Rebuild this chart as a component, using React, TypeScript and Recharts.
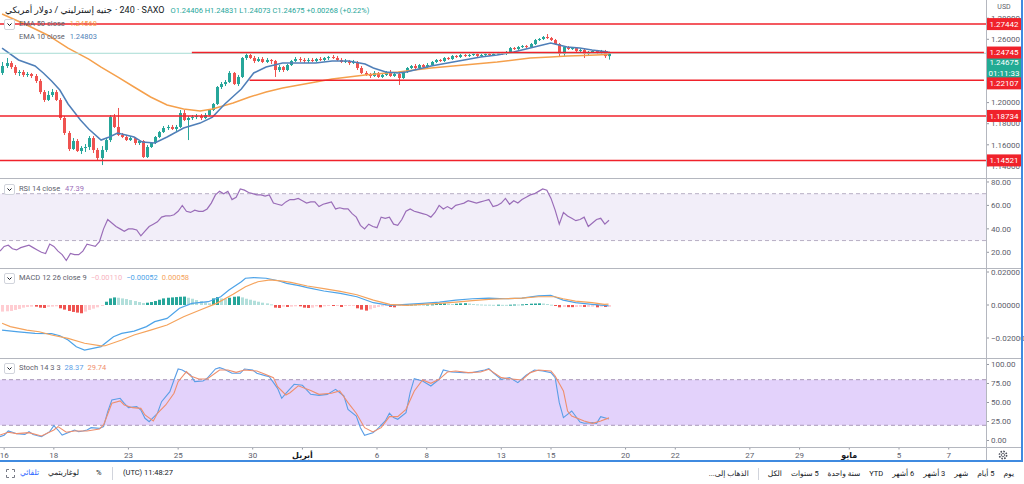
import React from 'react';
import { ComposedChart, Bar, Line, XAxis, YAxis, ReferenceLine, ReferenceArea } from 'recharts';

const FONT = "Roboto, 'DejaVu Sans', sans-serif";
const W = 1024;
const AXIS_W = 38;
const PLOT_W = W - AXIS_W;
const SLOTS = 239; // visible 4h slots incl. empty space on the right

const UP = '#26a69a';
const DOWN = '#ef5350';
const LEVEL = '#f0222b';
const AXIS_TEXT = '#5d606b';
const SEP = '#b4b7bf';

// 4h candles GBP/USD
const opens = [
  1.2281, 1.2347, 1.2375, 1.2337, 1.2281, 1.229, 1.2262, 1.2271, 1.2252, 1.2205,
  1.21, 1.2025, 1.2072, 1.21, 1.2025, 1.1854, 1.1712, 1.156, 1.1636, 1.1541,
  1.157, 1.1579, 1.1664, 1.1551, 1.1475, 1.1551, 1.1645, 1.1863, 1.1769, 1.1693,
  1.1674, 1.1645, 1.1664, 1.1617, 1.1636, 1.1484, 1.1579, 1.1617, 1.1674, 1.1721,
  1.1759, 1.1769, 1.175, 1.1769, 1.1901, 1.1835, 1.1854, 1.1863, 1.1873, 1.1854,
  1.1882, 1.193, 1.1987, 1.2148, 1.2176, 1.2195, 1.2281, 1.2176, 1.2243, 1.2423,
  1.2451, 1.2423, 1.2394, 1.2413, 1.2385, 1.2404, 1.2394, 1.2309, 1.2337, 1.2309,
  1.2356, 1.2394, 1.2413, 1.2404, 1.2394, 1.2404, 1.2394, 1.2413, 1.2404, 1.2423,
  1.2432, 1.2423, 1.2404, 1.2385, 1.2394, 1.2375, 1.2385, 1.2328, 1.2281, 1.2262,
  1.2252, 1.2281, 1.2243, 1.2262, 1.229, 1.2252, 1.2271, 1.2233, 1.229, 1.2328,
  1.2347, 1.2328, 1.2356, 1.2337, 1.2356, 1.2385, 1.2404, 1.2394, 1.2423, 1.2413,
  1.2442, 1.2432, 1.2451, 1.2442, 1.2451, 1.2461, 1.2442, 1.2451, 1.2461, 1.2451,
  1.2461, 1.247, 1.2461, 1.248, 1.2517, 1.2508, 1.2527, 1.2536, 1.2527, 1.2555,
  1.2593, 1.2603, 1.2622, 1.2612, 1.2593, 1.2555, 1.2461, 1.2527, 1.2508, 1.2517,
  1.2489, 1.2499, 1.2461, 1.248, 1.2489, 1.247, 1.2489, 1.24406,
];
const highs = [
  1.2385, 1.2423, 1.2394, 1.2356, 1.2309, 1.2309, 1.229, 1.2281, 1.2271, 1.2224,
  1.2119, 1.211, 1.2129, 1.2119, 1.2043, 1.1873, 1.1731, 1.1664, 1.1655, 1.1588,
  1.1607, 1.1683, 1.1683, 1.157, 1.1588, 1.1664, 1.1882, 1.1892, 1.1949, 1.1712,
  1.1693, 1.1683, 1.1674, 1.1645, 1.1645, 1.1598, 1.1626, 1.1683, 1.1731, 1.1778,
  1.1788, 1.1788, 1.1788, 1.193, 1.193, 1.1873, 1.1882, 1.1892, 1.1892, 1.1901,
  1.1939, 1.1996, 1.2157, 1.2195, 1.2214, 1.2299, 1.229, 1.2262, 1.2432, 1.247,
  1.2461, 1.2442, 1.2432, 1.2432, 1.2423, 1.2413, 1.2404, 1.2356, 1.2347, 1.2366,
  1.2404, 1.2432, 1.2432, 1.2423, 1.2423, 1.2423, 1.2423, 1.2432, 1.2432, 1.2442,
  1.2451, 1.2442, 1.2423, 1.2413, 1.2404, 1.2404, 1.2394, 1.2347, 1.2299, 1.2281,
  1.2299, 1.229, 1.2281, 1.2299, 1.2309, 1.229, 1.2281, 1.2299, 1.2337, 1.2356,
  1.2366, 1.2366, 1.2366, 1.2375, 1.2394, 1.2413, 1.2413, 1.2432, 1.2432, 1.2451,
  1.2451, 1.2461, 1.2461, 1.2461, 1.247, 1.247, 1.2461, 1.247, 1.247, 1.247,
  1.248, 1.248, 1.2489, 1.2527, 1.2527, 1.2536, 1.2546, 1.2546, 1.2565, 1.2603,
  1.2612, 1.2631, 1.265, 1.2622, 1.2603, 1.2565, 1.2536, 1.2536, 1.2527, 1.2527,
  1.2508, 1.2508, 1.2489, 1.2499, 1.2499, 1.2499, 1.2499, 1.24831,
];
const lows = [
  1.2262, 1.2328, 1.2318, 1.2262, 1.2252, 1.2243, 1.2243, 1.2233, 1.2186, 1.2081,
  1.2006, 1.2015, 1.2053, 1.2015, 1.1835, 1.1693, 1.1541, 1.1551, 1.1532, 1.1513,
  1.1532, 1.1551, 1.1522, 1.1456, 1.1408, 1.1532, 1.1626, 1.1759, 1.1683, 1.1664,
  1.1636, 1.1636, 1.1598, 1.1598, 1.1475, 1.1475, 1.157, 1.1607, 1.1664, 1.1712,
  1.174, 1.174, 1.1731, 1.1759, 1.1825, 1.1645, 1.1835, 1.1844, 1.1835, 1.1844,
  1.1873, 1.192, 1.1977, 1.2129, 1.2157, 1.2186, 1.2167, 1.2157, 1.2233, 1.2404,
  1.2413, 1.2375, 1.2385, 1.2375, 1.2375, 1.2366, 1.2243, 1.229, 1.229, 1.2299,
  1.2347, 1.2385, 1.2385, 1.2375, 1.2375, 1.2385, 1.2385, 1.2394, 1.2394, 1.2404,
  1.2413, 1.2394, 1.2375, 1.2375, 1.2356, 1.2366, 1.2309, 1.2271, 1.2252, 1.2233,
  1.2243, 1.2233, 1.2233, 1.2252, 1.2243, 1.2243, 1.2167, 1.2224, 1.2281, 1.2318,
  1.2318, 1.2318, 1.2328, 1.2328, 1.2347, 1.2375, 1.2385, 1.2385, 1.2404, 1.2404,
  1.2423, 1.2423, 1.2432, 1.2432, 1.2442, 1.2432, 1.2432, 1.2442, 1.2442, 1.2442,
  1.2451, 1.2451, 1.2451, 1.247, 1.2499, 1.2499, 1.2517, 1.2517, 1.2517, 1.2546,
  1.2584, 1.2593, 1.2603, 1.2584, 1.2546, 1.2432, 1.2442, 1.2499, 1.2499, 1.248,
  1.248, 1.2423, 1.2451, 1.247, 1.2461, 1.2461, 1.2423, 1.24073,
];
const closes = [
  1.2347, 1.2375, 1.2337, 1.2281, 1.229, 1.2262, 1.2271, 1.2252, 1.2205, 1.21,
  1.2025, 1.2072, 1.21, 1.2025, 1.1854, 1.1712, 1.156, 1.1636, 1.1541, 1.157,
  1.1579, 1.1664, 1.1551, 1.1475, 1.1551, 1.1645, 1.1863, 1.1769, 1.1693, 1.1674,
  1.1645, 1.1664, 1.1617, 1.1636, 1.1484, 1.1579, 1.1617, 1.1674, 1.1721, 1.1759,
  1.1769, 1.175, 1.1769, 1.1901, 1.1835, 1.1854, 1.1863, 1.1873, 1.1854, 1.1882,
  1.193, 1.1987, 1.2148, 1.2176, 1.2195, 1.2281, 1.2176, 1.2243, 1.2423, 1.2451,
  1.2423, 1.2394, 1.2413, 1.2385, 1.2404, 1.2394, 1.2309, 1.2337, 1.2309, 1.2356,
  1.2394, 1.2413, 1.2404, 1.2394, 1.2404, 1.2394, 1.2413, 1.2404, 1.2423, 1.2432,
  1.2423, 1.2404, 1.2385, 1.2394, 1.2375, 1.2385, 1.2328, 1.2281, 1.2262, 1.2252,
  1.2281, 1.2243, 1.2262, 1.229, 1.2252, 1.2271, 1.2233, 1.229, 1.2328, 1.2347,
  1.2328, 1.2356, 1.2337, 1.2356, 1.2385, 1.2404, 1.2394, 1.2423, 1.2413, 1.2442,
  1.2432, 1.2451, 1.2442, 1.2451, 1.2461, 1.2442, 1.2451, 1.2461, 1.2451, 1.2461,
  1.247, 1.2461, 1.248, 1.2517, 1.2508, 1.2527, 1.2536, 1.2527, 1.2555, 1.2593,
  1.2603, 1.2622, 1.2612, 1.2593, 1.2555, 1.2461, 1.2527, 1.2508, 1.2517, 1.2489,
  1.2499, 1.2461, 1.248, 1.2489, 1.247, 1.2489, 1.2441, 1.24675,
];

// moving averages read at a subset of bars: [bar, value]
const ema10Pts: [number, number][] = [
  [0, 1.2517], [4, 1.2404], [8, 1.2347], [10, 1.2281], [12, 1.2205], [14, 1.2119], [16, 1.1987],
  [19, 1.1835], [21, 1.175], [24, 1.1645], [26, 1.1674], [28, 1.1712], [30, 1.1693], [32, 1.1674],
  [34, 1.1626], [37, 1.1617], [40, 1.1674], [44, 1.1759], [48, 1.1806], [51, 1.1863], [54, 1.1987],
  [58, 1.2129], [61, 1.2281], [64, 1.2337], [68, 1.2375], [72, 1.2375], [76, 1.2375], [80, 1.2394],
  [84, 1.2394], [88, 1.2366], [90, 1.2328], [93, 1.229], [96, 1.2281], [98, 1.229], [101, 1.2318],
  [104, 1.2347], [108, 1.2375], [112, 1.2404], [116, 1.2432], [120, 1.2451], [124, 1.248],
  [128, 1.2517], [131, 1.2546], [133, 1.2565], [135, 1.2546], [137, 1.2527], [140, 1.2517],
  [143, 1.2499], [147, 1.24803],
];
const ema50Pts: [number, number][] = [
  [0, 1.284], [6, 1.2736], [11, 1.2641], [16, 1.2517], [21, 1.2413], [24, 1.2337], [28, 1.2243],
  [32, 1.2148], [36, 1.2053], [40, 1.1977], [44, 1.1939], [48, 1.192], [51, 1.1939], [56, 1.1996],
  [60, 1.2053], [64, 1.21], [68, 1.2138], [72, 1.2167], [76, 1.2195], [80, 1.2224], [88, 1.2262],
  [96, 1.229], [104, 1.2328], [112, 1.2356], [120, 1.2385], [128, 1.2423], [133, 1.2432],
  [137, 1.2442], [141, 1.2446], [147, 1.24568],
];

const rsiValues = [
  21, 25, 26, 23, 22, 24, 25, 26, 24, 22,
  20, 19, 27, 25, 21, 18, 13, 19, 18, 18,
  21, 27, 26, 25, 29, 40, 48, 45, 42, 40,
  38, 40, 40, 39, 34, 38, 42, 44, 46, 50,
  51, 51, 52, 55, 60, 55, 54, 56, 55, 55,
  57, 62, 69, 72, 70, 72, 65, 67, 74, 73,
  71, 70, 69, 69, 68, 69, 62, 61, 60, 63,
  65, 65, 66, 64, 62, 63, 63, 59, 61, 62,
  63, 57, 58, 57, 57, 53, 50, 43, 40, 44,
  42, 41, 50, 49, 50, 44, 43, 48, 55, 57,
  55, 54, 53, 52, 50, 54, 60, 57, 59, 57,
  60, 61, 62, 64, 63, 62, 63, 64, 65, 59,
  60, 62, 66, 61, 64, 62, 65, 67, 69, 70,
  72, 74, 73, 66, 56, 44, 54, 51, 49, 47,
  48, 50, 42, 45, 48, 49, 44, 47.39,
];

const macdPts: [number, number][] = [
  [0, -0.0152], [4, -0.0163], [8, -0.0172], [12, -0.0173], [14, -0.0186], [16, -0.0212], [18, -0.0253],
  [20, -0.0273], [22, -0.0263], [24, -0.0252], [25, -0.0232], [27, -0.0192], [29, -0.0172],
  [32, -0.0158], [35, -0.0131], [37, -0.0101], [40, -0.0081], [43, -0.002], [46, 0.001], [50, 0.002],
  [53, 0.005], [55, 0.0091], [58, 0.0141], [59, 0.0162], [61, 0.0166], [64, 0.0162], [67, 0.0147],
  [69, 0.0131], [72, 0.0117], [74, 0.0105], [78, 0.0085], [82, 0.0071], [86, 0.005], [90, 0.0014],
  [94, -0.0002], [98, 0.0004], [102, 0.001], [106, 0.0018], [110, 0.003], [114, 0.0038],
  [118, 0.0042], [122, 0.0038], [126, 0.0042], [130, 0.0055], [133, 0.0059], [136, 0.003],
  [139, 0.0014], [143, 0.0004], [146, -0.0002], [147, -0.00052],
];
const signalPts: [number, number][] = [
  [0, -0.0111], [2, -0.0131], [6, -0.0152], [9, -0.0162], [12, -0.0182], [16, -0.0202], [20, -0.0232],
  [24, -0.0248], [25, -0.0247], [29, -0.0212], [32, -0.0182], [36, -0.0152], [40, -0.0121],
  [44, -0.0071], [48, -0.003], [52, 0.001], [56, 0.0065], [59, 0.0111], [62, 0.0141], [65, 0.0152],
  [68, 0.0145], [70, 0.0137], [74, 0.0115], [78, 0.0099], [82, 0.0083], [86, 0.0062], [90, 0.003],
  [94, 0.0004], [98, -0.0002], [102, 0.0004], [106, 0.001], [110, 0.0018], [114, 0.0026],
  [118, 0.0034], [122, 0.0038], [126, 0.0042], [130, 0.005], [134, 0.005], [136, 0.0038],
  [139, 0.0024], [143, 0.0014], [146, 0.0004], [147, 0.00058],
];
const histValues = [
  -0.004, -0.0038, -0.0036, -0.003, -0.0024, -0.0016, -0.0012, -0.001, -0.001, -0.0016,
  -0.0018, -0.0012, -0.001, -0.0008, -0.002, -0.0028, -0.0036, -0.0042, -0.0046, -0.005,
  -0.004, -0.003, -0.0022, -0.0014, -0.0006, 0.002, 0.004, 0.0046, 0.0044, 0.004,
  0.0036, 0.003, 0.0024, 0.0018, 0.0012, 0.0014, 0.0018, 0.0024, 0.0032, 0.004,
  0.0044, 0.0046, 0.0048, 0.005, 0.0051, 0.0044, 0.0038, 0.003, 0.0024, 0.0016,
  0.001, 0.004, 0.0048, 0.004, 0.0036, 0.0044, 0.005, 0.0052, 0.0046, 0.0038,
  0.0032, 0.0026, 0.002, 0.0014, 0.001, 0.0004, -0.0016, -0.0018, -0.001, -0.0012,
  -0.001, -0.0008, -0.0008, -0.0016, -0.0018, -0.0016, -0.0008, -0.0014, -0.0008, -0.0006,
  -0.0006, -0.0004, -0.0012, -0.0006, -0.0005, -0.0004, -0.002, -0.0028, -0.0034, -0.0026,
  -0.0018, -0.0012, -0.0008, -0.0004, -0.0012, -0.0014, -0.0006, -0.0002, 0.0002, 0.0003,
  0.0004, 0.0003, 0.0002, 0.0003, 0.0004, 0.0006, 0.0008, 0.001, 0.0008, 0.0006,
  0.0008, 0.001, 0.0011, 0.0009, 0.0006, 0.0004, 0.0003, 0.0002, 0.0002, 0.0001,
  0.0002, 0.0001, 0.0001, 0.0002, 0.0003, 0.0003, 0.0004, 0.0006, 0.0008, 0.0009,
  0.001, 0.0009, 0.0006, 0.0002, -0.0006, -0.0014, -0.0012, -0.0013, -0.0013, -0.0012,
  -0.0011, -0.0012, -0.0011, -0.001, -0.0014, -0.001, -0.0012, -0.0011,
];

const stochKPts: [number, number][] = [
  [0, 5], [1, 7], [2, 12.5], [3, 10.8], [4, 9], [6, 8], [7, 11.6], [8, 8], [10, 5], [12, 11.6],
  [13, 19.5], [14, 13.8], [15, 7.2], [17, 11.6], [18, 13.8], [19, 11.6], [20, 12.5], [21, 13.8],
  [22, 16.9], [24, 16], [25, 18.2], [26, 37.9], [27, 53.3], [29, 55.5], [30, 48.9], [31, 43.2],
  [33, 44.5], [34, 40.1], [35, 29.2], [36, 24.8], [38, 35.8], [39, 51.1], [41, 64.3], [42, 79.6],
  [43, 94.1], [44, 92.8], [46, 86.2], [47, 77.4], [49, 78.3], [50, 81.8], [52, 94.1], [53, 95.8],
  [54, 94.1], [56, 88.4], [58, 88.4], [59, 94.1], [61, 92.8], [62, 88.4], [64, 85.3], [65, 83.9],
  [67, 68.6], [68, 55.5], [69, 62.1], [71, 73.9], [73, 72.6], [75, 60.7], [77, 59.4], [79, 60.7],
  [81, 67.3], [83, 58.6], [84, 41], [86, 32.2], [87, 16.9], [88, 6.8], [90, 10.3], [91, 14.7],
  [93, 25.7], [94, 35.8], [95, 30.1], [96, 27.9], [98, 36.6], [99, 62.9], [100, 81.3], [102, 78.3],
  [104, 71.7], [106, 80.5], [107, 92.8], [109, 90.1], [112, 89.3], [114, 89.3], [117, 92.8],
  [118, 94.5], [119, 89.3], [121, 80.5], [123, 82.7], [125, 76.1], [127, 85.8], [129, 92.8],
  [131, 91.4], [133, 89.3], [134, 82.7], [135, 49.8], [136, 30.1], [138, 38.8], [140, 24.3],
  [141, 22.6], [143, 23.5], [144, 22.6], [145, 31.4], [147, 28.37],
];
const stochDPts: [number, number][] = [
  [0, 7.2], [2, 10.8], [4, 9], [7, 10.3], [10, 5.9], [13, 13.8], [14, 18.2], [16, 10.8], [18, 12.5],
  [21, 12.5], [24, 15.1], [25, 20.4], [27, 48.9], [29, 52], [30, 46.7], [32, 43.2], [34, 42.3],
  [35, 33.6], [37, 25.7], [38, 35.8], [40, 46.7], [42, 62.1], [43, 77.4], [45, 90.6], [46, 84.9],
  [48, 80.9], [50, 80.9], [53, 92.8], [55, 92.8], [57, 89.7], [59, 92.8], [62, 91.4], [64, 87.1],
  [66, 82.7], [67, 70.8], [69, 59.9], [70, 62.9], [72, 72], [75, 65.8], [77, 60.7], [80, 62.1],
  [82, 65.1], [84, 49.8], [86, 35.8], [88, 16.9], [90, 11.2], [92, 16.9], [94, 31.4], [96, 31.4],
  [98, 41], [100, 65.1], [102, 79.6], [104, 75.2], [106, 80.5], [108, 90.1], [110, 91.4],
  [113, 89.3], [116, 90.1], [118, 93.7], [121, 82.7], [123, 81.3], [126, 79.6], [128, 89.3],
  [130, 92.8], [133, 91.4], [134, 84.9], [136, 65.1], [137, 38.8], [138, 32.2], [141, 25.7],
  [143, 22.6], [145, 25.7], [147, 29.74],
];

// drawn horizontal levels and the bar they start from
const levelPrices = [1.27442, 1.24745, 1.22107, 1.18734, 1.14521];
const levelFrom = [0, 46, 60, 0, 0];
const lastPrice = 1.24675;
const priceTicks = [1.14, 1.16, 1.18, 1.2, 1.22, 1.24, 1.26, 1.28];

const dateTicks: [number, string][] = [
  [1, '16'], [13, '18'], [31, '23'], [43, '25'], [61, '30'], [73, 'أبريل'], [91, '6'], [103, '8'],
  [121, '13'], [133, '15'], [151, '20'], [163, '22'], [181, '27'], [193, '29'], [205, 'مايو'],
  [217, '5'], [229, '7'],
];
const monthLabels = ['أبريل', 'مايو'];

const rangeButtons = ['يوم', '5 أيام', 'شهر', '3 أشهر', '6 أشهر', 'YTD', 'سنة واحدة', '5 سنوات', 'الكل'];

type Row = {
  i: number; o?: number; h?: number; l?: number; c?: number;
  ema10?: number; ema50?: number; rsi?: number; macd?: number; signal?: number;
  hist?: number; histColor?: string; k?: number; d?: number;
};

const rows: Row[] = Array.from({ length: SLOTS }, (_, i) => ({ i }));
opens.forEach((o, i) => {
  Object.assign(rows[i], { o, h: highs[i], l: lows[i], c: closes[i], rsi: rsiValues[i], hist: histValues[i] });
  const v = histValues[i];
  const prev = i ? histValues[i - 1] : -Infinity;
  rows[i].histColor = v >= 0 ? (v > prev ? '#26a69a' : '#b2dfdb') : (v > prev ? '#ffcdd2' : '#ef5350');
});
ema10Pts.forEach(([i, v]) => (rows[i].ema10 = v));
ema50Pts.forEach(([i, v]) => (rows[i].ema50 = v));
macdPts.forEach(([i, v]) => (rows[i].macd = v));
signalPts.forEach(([i, v]) => (rows[i].signal = v));
stochKPts.forEach(([i, v]) => (rows[i].k = v));
stochDPts.forEach(([i, v]) => (rows[i].d = v));

const MAIN_H = 178;
const SUB_H = 89;
const STOCH_H = 88;
const XAXIS_H = 14;
const margin = { top: 0, right: 0, bottom: 0, left: 0 };

const Candle = (props: any) => {
  const { x, width, payload } = props;
  let { y, height } = props;
  if (payload.h == null || !height) return <g />;
  if (height < 0) { y += height; height = -height; }
  const { o, h, l, c } = payload;
  const ppu = height / (h - l);
  const yOf = (v: number) => y + (h - v) * ppu;
  const col = c >= o ? UP : DOWN;
  const top = yOf(Math.max(o, c));
  const bot = yOf(Math.min(o, c));
  const cx = Math.round(x + width / 2) + 0.5;
  return (
    <g>
      <line x1={cx} x2={cx} y1={y} y2={y + height} stroke={col} strokeWidth={1} />
      <rect x={cx - 1.5} y={top} width={3} height={Math.max(1, bot - top)} fill={col} />
    </g>
  );
};

const HistBar = (props: any) => {
  const { x, width, payload } = props;
  let { y, height } = props;
  if (payload.hist == null) return <g />;
  if (height < 0) { y += height; height = -height; }
  const cx = Math.round(x + width / 2);
  return <rect x={cx - 1} y={y} width={3} height={Math.max(1, height)} fill={payload.histColor} />;
};

const PlainTick = ({ y, payload, fmt }: any) => (
  <g>
    <line x1={PLOT_W} x2={PLOT_W + 3} y1={y} y2={y} stroke="#9598a1" />
    <text x={PLOT_W + 5} y={y} dy="0.35em" fontSize={8} fill={AXIS_TEXT} fontFamily={FONT}>
      {fmt(payload.value)}
    </text>
  </g>
);

const tagShift: Record<string, number> = { '1.24675': 9, '1.22107': 3 };

const PriceTick = (props: any) => {
  const { y, payload } = props;
  const v = payload.value;
  const sy = y + (tagShift[String(v)] || 0);
  if (levelPrices.includes(v)) {
    return (
      <g>
        <rect x={PLOT_W + 1} y={sy - 6} width={34} height={12} fill={LEVEL} />
        <text x={PLOT_W + 18} y={sy} dy="0.35em" textAnchor="middle" fontSize={8} fill="#fff" fontFamily={FONT}>
          {v.toFixed(5)}
        </text>
      </g>
    );
  }
  if (v === lastPrice) {
    return (
      <g>
        <rect x={PLOT_W + 1} y={sy - 6} width={34} height={23} fill="#22ab94" />
        <text x={PLOT_W + 18} y={sy} dy="0.35em" textAnchor="middle" fontSize={8} fill="#fff" fontFamily={FONT}>
          {v.toFixed(5)}
        </text>
        <text x={PLOT_W + 18} y={sy + 11} dy="0.35em" textAnchor="middle" fontSize={8} fill="#fff" fontFamily={FONT}>
          01:11:33
        </text>
      </g>
    );
  }
  return <PlainTick {...props} fmt={(n: number) => n.toFixed(5)} />;
};

const DateTick = ({ x, payload }: any) => {
  const hit = dateTicks.find((t) => t[0] === payload.value);
  if (!hit) return <g />;
  const bold = monthLabels.includes(hit[1]);
  return (
    <g>
      <line x1={x} x2={x} y1={STOCH_H} y2={STOCH_H + 2.5} stroke="#9598a1" />
      <text x={x} y={STOCH_H + 8} dy="0.35em" textAnchor="middle" fontSize={8}
        fontWeight={bold ? 700 : 400} fill={bold ? '#131722' : AXIS_TEXT} fontFamily={FONT}>
        {hit[1]}
      </text>
    </g>
  );
};

const Chevron = ({ top }: { top: number }) => (
  <div style={{ position: 'absolute', left: 4, top, width: 9, height: 9, border: '1px solid #d1d4dc', borderRadius: 2, background: '#fff' }}>
    <svg width={9} height={9} style={{ position: 'absolute', left: 0, top: 0 }}>
      <polyline points="2.5,3.5 4.5,5.5 6.5,3.5" fill="none" stroke="#131722" strokeWidth={1} />
    </svg>
  </div>
);

const legendText: React.CSSProperties = { position: 'absolute', left: 19, fontSize: 7.5, color: '#5d606b', whiteSpace: 'nowrap', lineHeight: '10px' };

const hLine = (top: number, color = SEP): React.CSSProperties => ({ position: 'absolute', left: 0, top, width: 1021, height: 1, background: color });

const barText: React.CSSProperties = { position: 'absolute', top: 468, fontSize: 7.5, color: '#131722', whiteSpace: 'nowrap', lineHeight: '10px' };

export default function App() {
  return (
    <div style={{ position: 'absolute', left: 0, top: 0, width: W, height: 484, background: '#fff', fontFamily: FONT, overflow: 'hidden' }}>
      {/* price panel */}
      <div style={{ position: 'absolute', left: 0, top: 0 }}>
        <ComposedChart width={W} height={MAIN_H} data={rows} margin={margin}>
          <XAxis dataKey="i" hide />
          <YAxis orientation="right" width={AXIS_W} domain={[1.12853, 1.29725]} allowDataOverflow
            ticks={[...priceTicks, lastPrice, ...levelPrices]} interval={0}
            axisLine={false} tickLine={false} tick={PriceTick} />
          <Bar dataKey={(r: Row) => (r.h == null ? null : [r.l, r.h])} barSize={3} shape={Candle} isAnimationActive={false} />
          <Line dataKey="ema50" type="linear" stroke="#f5a04c" strokeWidth={1.5} dot={false} activeDot={false} connectNulls isAnimationActive={false} />
          <Line dataKey="ema10" type="linear" stroke="#4f7fb8" strokeWidth={1.5} dot={false} activeDot={false} connectNulls isAnimationActive={false} />
          <ReferenceLine y={lastPrice} stroke="#a7dcd5" strokeWidth={1} />
          {levelPrices.map((p, k) =>
            levelFrom[k] === 0 ? (
              <ReferenceLine key={p} y={p} stroke={LEVEL} strokeWidth={1.5} />
            ) : (
              <ReferenceLine key={p} segment={[{ x: levelFrom[k], y: p }, { x: SLOTS - 1, y: p }]} stroke={LEVEL} strokeWidth={1.5} ifOverflow="visible" />
            ),
          )}
        </ComposedChart>
      </div>

      {/* RSI */}
      <div style={{ position: 'absolute', left: 0, top: 179 }}>
        <ComposedChart width={W} height={SUB_H} data={rows} margin={margin}>
          <XAxis dataKey="i" hide />
          <YAxis orientation="right" width={AXIS_W} domain={[6.6, 82.54]} allowDataOverflow ticks={[20, 40, 60, 80]} interval={0}
            axisLine={false} tickLine={false} tick={(p: any) => <PlainTick {...p} fmt={(n: number) => n.toFixed(2)} />} />
          <ReferenceArea y1={30} y2={70} fill="#7e57c2" fillOpacity={0.1} stroke="none" />
          <ReferenceLine y={70} stroke="#b7aec4" strokeDasharray="4 3" />
          <ReferenceLine y={30} stroke="#b7aec4" strokeDasharray="4 3" />
          <Line dataKey="rsi" type="linear" stroke="#9a6db8" strokeWidth={1.2} dot={false} activeDot={false} isAnimationActive={false} />
        </ComposedChart>
      </div>

      {/* MACD */}
      <div style={{ position: 'absolute', left: 0, top: 269 }}>
        <ComposedChart width={W} height={SUB_H} data={rows} margin={margin}>
          <XAxis dataKey="i" hide />
          <YAxis orientation="right" width={AXIS_W} domain={[-0.03212, 0.02182]} allowDataOverflow ticks={[-0.02, 0, 0.02]} interval={0}
            axisLine={false} tickLine={false}
            tick={(p: any) => <PlainTick {...p} fmt={(n: number) => (n < 0 ? '−' : '') + Math.abs(n).toFixed(5)} />} />
          <Bar dataKey="hist" barSize={3} shape={HistBar} isAnimationActive={false} />
          <Line dataKey="macd" type="linear" stroke="#4da3e8" strokeWidth={1.2} dot={false} activeDot={false} connectNulls isAnimationActive={false} />
          <Line dataKey="signal" type="linear" stroke="#f5a35c" strokeWidth={1.2} dot={false} activeDot={false} connectNulls isAnimationActive={false} />
        </ComposedChart>
      </div>

      {/* Stochastic + time axis */}
      <div style={{ position: 'absolute', left: 0, top: 359 }}>
        <ComposedChart width={W} height={STOCH_H + XAXIS_H} data={rows} margin={margin}>
          <XAxis dataKey="i" interval={0} height={XAXIS_H} axisLine={false} tickLine={false} tick={DateTick} />
          <YAxis orientation="right" width={AXIS_W} domain={[-8.55, 107.2]} allowDataOverflow ticks={[0, 25, 50, 75, 100]} interval={0}
            axisLine={false} tickLine={false} tick={(p: any) => <PlainTick {...p} fmt={(n: number) => n.toFixed(2)} />} />
          <ReferenceArea y1={20} y2={80} fill="#9c5ff0" fillOpacity={0.28} stroke="none" />
          <ReferenceLine y={80} stroke="#a897b8" strokeDasharray="4 3" />
          <ReferenceLine y={20} stroke="#a897b8" strokeDasharray="4 3" />
          <Line dataKey="k" type="linear" stroke="#5b9ee6" strokeWidth={1.1} dot={false} activeDot={false} connectNulls isAnimationActive={false} />
          <Line dataKey="d" type="linear" stroke="#ef8e6c" strokeWidth={1.1} dot={false} activeDot={false} connectNulls isAnimationActive={false} />
        </ComposedChart>
      </div>

      {/* separators and frame */}
      <div style={hLine(178)} />
      <div style={hLine(268)} />
      <div style={hLine(358)} />
      <div style={hLine(447)} />
      <div style={{ position: 'absolute', left: PLOT_W, top: 0, width: 1, height: 461, background: SEP }} />
      <div style={{ position: 'absolute', left: 1021, top: 0, width: 2, height: 462, background: '#3f8ae0' }} />
      <div style={{ position: 'absolute', left: 0, top: 460, width: 1023, height: 2, background: '#3f8ae0' }} />

      <div style={{ position: 'absolute', left: PLOT_W + 1, width: 34, top: 3, fontSize: 7, color: AXIS_TEXT, textAlign: 'center' }}>USD</div>
      <svg width={12} height={12} style={{ position: 'absolute', left: 997, top: 449 }}>
        <circle cx={6} cy={6} r={3.6} fill="none" stroke="#50535e" strokeWidth={1.6} strokeDasharray="1.6 1.2" />
        <circle cx={6} cy={6} r={1.6} fill="none" stroke="#50535e" strokeWidth={0.8} />
      </svg>

      {/* legends */}
      <div style={{ position: 'absolute', left: 5, top: 5, fontSize: 9, color: '#131722', whiteSpace: 'nowrap', display: 'flex', alignItems: 'baseline' }}>
        <bdi>جنيه إسترليني / دولار أمريكي</bdi>
        <span style={{ marginLeft: 3 }}>· 240 · SAXO</span>
        <span style={{ marginLeft: 6, fontSize: 7.5, color: UP }}>O1.24406 H1.24831 L1.24073 C1.24675 +0.00268 (+0.22%)</span>
      </div>
      <Chevron top={19} />
      <div style={{ ...legendText, top: 19 }}>EMA 50 close <span style={{ color: '#f5a04c', marginLeft: 3 }}>1.24568</span></div>
      <div style={{ ...legendText, top: 32 }}>EMA 10 close <span style={{ color: '#4f7fb8', marginLeft: 3 }}>1.24803</span></div>

      <Chevron top={184} />
      <div style={{ ...legendText, top: 184 }}>RSI 14 close <span style={{ color: '#9a6db8', marginLeft: 3 }}>47.39</span></div>

      <Chevron top={273} />
      <div style={{ ...legendText, top: 273 }}>
        MACD 12 26 close 9
        <span style={{ color: '#f7b4bf', marginLeft: 4 }}>−0.00110</span>
        <span style={{ color: '#4da3e8', marginLeft: 4 }}>−0.00052</span>
        <span style={{ color: '#f5a35c', marginLeft: 4 }}>0.00058</span>
      </div>

      <Chevron top={363} />
      <div style={{ ...legendText, top: 363 }}>
        Stoch 14 3 3
        <span style={{ color: '#5b9ee6', marginLeft: 4 }}>28.37</span>
        <span style={{ color: '#ef8e6c', marginLeft: 4 }}>29.74</span>
      </div>

      {/* bottom toolbar */}
      <svg width={9} height={9} style={{ position: 'absolute', left: 6, top: 469 }}>
        <path d="M0.5 3V0.5H3M6 0.5H8.5V3M8.5 6V8.5H6M3 8.5H0.5V6" fill="none" stroke="#787b86" strokeWidth={1} />
      </svg>
      <div style={{ ...barText, left: 20, color: '#2962ff' }}>تلقائي</div>
      <div style={{ ...barText, left: 48 }}>لوغاريتمي</div>
      <div style={{ ...barText, left: 96 }}>%</div>
      <div style={{ position: 'absolute', top: 467, left: 112, width: 1, height: 13, background: '#d1d4dc' }} />
      <div style={{ ...barText, left: 123 }}>(UTC) 11:48:27</div>

      <div dir="rtl" style={{ ...barText, right: 10, display: 'flex', gap: 9, alignItems: 'center' }}>
        {rangeButtons.map((b) => (
          <span key={b}>{b}</span>
        ))}
        <span style={{ width: 1, height: 12, background: '#d1d4dc' }} />
        <span>الذهاب إلى...</span>
      </div>
    </div>
  );
}
